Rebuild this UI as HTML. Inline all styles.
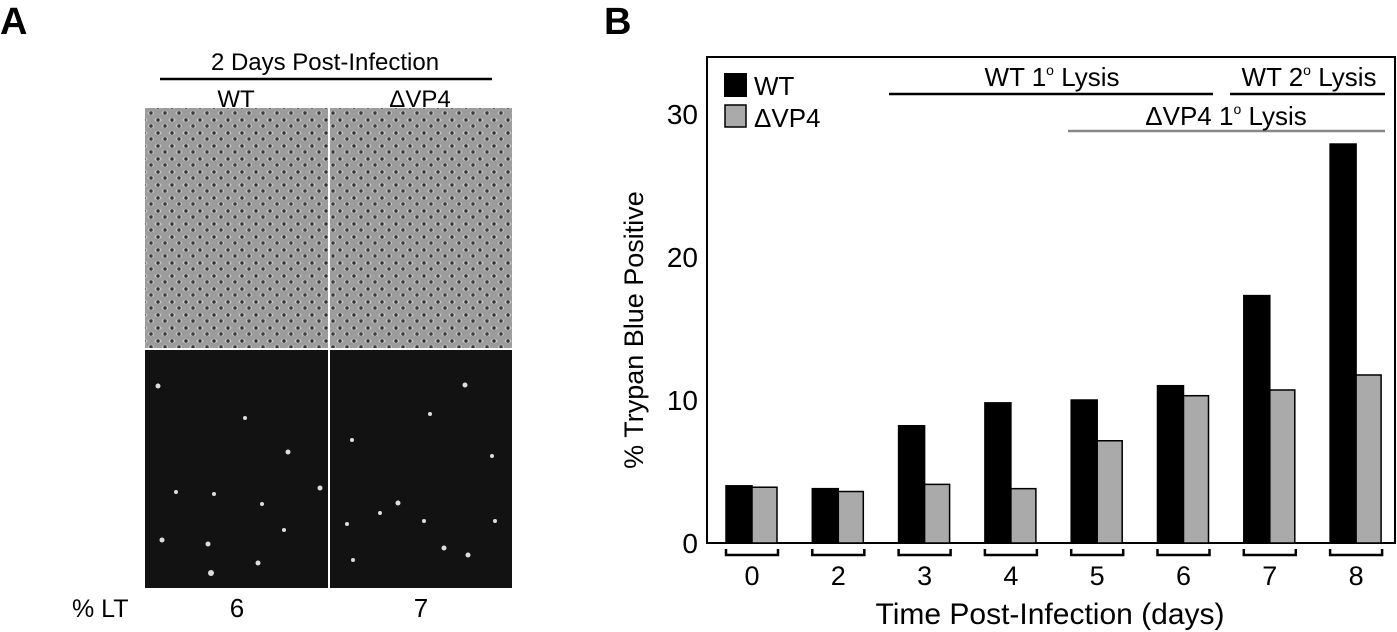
<!DOCTYPE html>
<html><head><meta charset="utf-8">
<style>
body{margin:0;background:#fff;}
svg{display:block;font-family:"Liberation Sans",sans-serif;}
</style></head>
<body>
<svg width="1397" height="632" viewBox="0 0 1397 632">
<defs>
<pattern id="cells" width="14" height="13" patternUnits="userSpaceOnUse">
<rect width="14" height="13" fill="#9c9c9c"/>
<ellipse cx="4" cy="3" rx="3.5" ry="2.2" fill="#c6c6c6"/>
<circle cx="4" cy="3" r="1.7" fill="#333"/>
<ellipse cx="11" cy="9" rx="3.5" ry="2.2" fill="#bfbfbf"/>
<circle cx="11" cy="9" r="1.7" fill="#3a3a3a"/>
</pattern>
</defs>
<g>
<text x="0" y="34" font-size="38" font-weight="bold">A</text>
<text x="325" y="70" font-size="24" text-anchor="middle">2 Days Post-Infection</text>
<line x1="160" y1="79" x2="492" y2="79" stroke="#000" stroke-width="2.5"/>
<text x="236" y="107" font-size="24" text-anchor="middle">WT</text>
<text x="420" y="107" font-size="24" text-anchor="middle">ΔVP4</text>
<rect x="145" y="108" width="183" height="240" fill="url(#cells)"/>
<rect x="330" y="108" width="182" height="240" fill="url(#cells)"/>
<rect x="145" y="350" width="183" height="238" fill="#121212"/>
<rect x="330" y="350" width="182" height="238" fill="#121212"/>
<g fill="#ddd">
<circle cx="158" cy="386" r="2.5"/><circle cx="245" cy="418" r="2"/><circle cx="288" cy="452" r="2.5"/><circle cx="320" cy="488" r="2.5"/><circle cx="176" cy="492" r="2"/><circle cx="214" cy="494" r="2"/><circle cx="262" cy="504" r="2"/><circle cx="162" cy="540" r="2.5"/><circle cx="208" cy="544" r="2.5"/><circle cx="284" cy="530" r="2"/><circle cx="258" cy="563" r="2.5"/><circle cx="211" cy="573" r="3"/>
<circle cx="465" cy="385" r="2.5"/><circle cx="430" cy="414" r="2"/><circle cx="352" cy="440" r="2"/><circle cx="492" cy="456" r="2"/><circle cx="398" cy="503" r="2.5"/><circle cx="380" cy="513" r="2"/><circle cx="424" cy="521" r="2"/><circle cx="347" cy="524" r="2"/><circle cx="495" cy="521" r="2"/><circle cx="444" cy="548" r="2.5"/><circle cx="468" cy="555" r="2.5"/><circle cx="353" cy="560" r="2"/>
</g>
<text x="72" y="617" font-size="25">% LT</text>
<text x="237" y="617" font-size="26" text-anchor="middle">6</text>
<text x="421" y="617" font-size="26" text-anchor="middle">7</text>
</g>
<g id="chart">
<text x="604" y="34" font-size="38" font-weight="bold">B</text>
</g>
</svg>
<script>
const categories = ["0","2","3","4","5","6","7","8"];
const wtValues = [4.0, 3.8, 8.2, 9.8, 10.0, 11.0, 17.3, 27.9];
const dvp4Values = [3.9, 3.6, 4.1, 3.8, 7.15, 10.3, 10.7, 11.75];
const yTicks = [0, 10, 20, 30];
const NS = "http://www.w3.org/2000/svg";
const g = document.getElementById('chart');
const L = 707, R = 1395, T = 57, B = 543;
const y = v => B - v * 14.3;
const xGroup = i => 752 + i * 86.3;
function mk(tag, attrs, text) {
  const e = document.createElementNS(NS, tag);
  for (const k in attrs) e.setAttribute(k, attrs[k]);
  if (text !== undefined) e.textContent = text;
  g.appendChild(e);
  return e;
}
let e;
e = mk('rect', {x: L, y: T, width: R - L, height: B - T, fill: 'none', stroke: '#000', 'stroke-width': 2});


yTicks.forEach(t => {
  e = mk('text', {x: 698, y: y(t) + 10, 'font-size': 28, 'text-anchor': 'end'}, String(t));
  
  
});
categories.forEach((c, i) => {
  const cx = xGroup(i);
  e = mk('rect', {x: cx - 26, y: y(wtValues[i]), width: 26, height: B - y(wtValues[i]), fill: '#000', stroke: '#000', 'stroke-width': 1.5});
  
  
  e = mk('rect', {x: cx, y: y(dvp4Values[i]), width: 25, height: B - y(dvp4Values[i]), fill: '#aaa', stroke: '#000', 'stroke-width': 1.5});
  
  
  e = mk('path', {d: `M${cx-26} 549 V555 H${cx+26} V549`, fill: 'none', stroke: '#000', 'stroke-width': 2.5});
  
  
  e = mk('text', {x: cx, y: 585, 'font-size': 27, 'text-anchor': 'middle'}, c);
  
  
});
e = mk('text', {x: 1050, y: 624, 'font-size': 30, 'text-anchor': 'middle'}, 'Time Post-Infection (days)');


e = mk('text', {x: 0, y: 0, 'font-size': 27, 'text-anchor': 'middle', transform: 'translate(643 330) rotate(-90)'}, '% Trypan Blue Positive');


e = mk('rect', {x: 724, y: 73, width: 23, height: 24, fill: '#000'});


e = mk('text', {x: 754, y: 95, 'font-size': 26}, 'WT');


e = mk('rect', {x: 725, y: 105, width: 21, height: 22, fill: '#aaa', stroke: '#000', 'stroke-width': 1.5});


e = mk('text', {x: 754, y: 127, 'font-size': 26}, 'ΔVP4');


function lysis(x1, x2, ly, tx, ty, pre, num, col, name) {
  e = mk('line', {x1: x1, y1: ly, x2: x2, y2: ly, stroke: col, 'stroke-width': 2.5});
  
  
  e = mk('text', {x: tx, y: ty, 'font-size': 26, 'text-anchor': 'middle'});
  
  
  e.innerHTML = `${pre} ${num}<tspan dy="-11" font-size="14">o</tspan><tspan dy="11"> Lysis</tspan>`;
}
lysis(889, 1213, 94, 1052, 86, 'WT', '1', '#000', 'wt-primary-lysis');
lysis(1230, 1385, 94, 1309, 86, 'WT', '2', '#000', 'wt-secondary-lysis');
lysis(1068, 1385, 131, 1226, 125, 'ΔVP4', '1', '#888', 'dvp4-primary-lysis');
</script>
</body></html>
